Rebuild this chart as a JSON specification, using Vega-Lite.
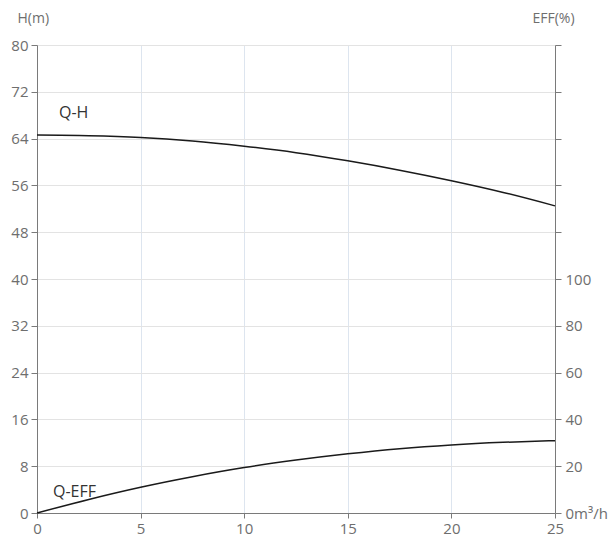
{
  "$schema": "https://vega.github.io/schema/vega-lite/v6.json",
  "width": 518,
  "height": 468,
  "autosize": {"type": "none"},
  "padding": {"left": 37, "top": 45, "right": 60, "bottom": 30},
  "background": "white",
  "config": {
    "view": {"stroke": null},
    "font": "Open Sans",
    "axis": {
      "labelFont": "Open Sans",
      "labelFontSize": 15,
      "labelColor": "#6e6e6e",
      "titleFont": "Open Sans",
      "titleFontSize": 14,
      "titleFontWeight": "normal",
      "titleColor": "#6e6e6e",
      "domainColor": "#7a7a7a",
      "tickColor": "#7a7a7a",
      "tickSize": 6,
      "labelPadding": 3
    }
  },
  "datasets": {
    "qh": [
      {"Q": 0, "H": 64.6},
      {"Q": 2.5, "H": 64.5},
      {"Q": 5, "H": 64.2},
      {"Q": 7.5, "H": 63.6},
      {"Q": 10, "H": 62.7},
      {"Q": 12.5, "H": 61.6},
      {"Q": 15, "H": 60.2},
      {"Q": 17.5, "H": 58.6},
      {"Q": 20, "H": 56.8},
      {"Q": 22.5, "H": 54.8},
      {"Q": 25, "H": 52.5}
    ],
    "qeff": [
      {"Q": 0, "EFF": 0},
      {"Q": 2.5, "EFF": 5.8},
      {"Q": 5, "EFF": 11.0},
      {"Q": 7.5, "EFF": 15.5},
      {"Q": 10, "EFF": 19.4},
      {"Q": 12.5, "EFF": 22.6},
      {"Q": 15, "EFF": 25.3},
      {"Q": 17.5, "EFF": 27.5},
      {"Q": 20, "EFF": 29.1},
      {"Q": 22.5, "EFF": 30.2},
      {"Q": 25, "EFF": 30.9}
    ],
    "labels": [
      {"Q": 1.06, "H": 68.4, "label": "Q-H"},
      {"Q": 0.77, "H": 3.6, "label": "Q-EFF"}
    ]
  },
  "layer": [
    {
      "layer": [
        {
          "data": {"name": "qh"},
          "mark": {"type": "line", "interpolate": "monotone", "color": "#1a1a1a", "strokeWidth": 1.5},
          "encoding": {
            "x": {
              "field": "Q", "type": "quantitative",
              "scale": {"domain": [0, 25], "nice": false},
              "axis": {"values": [0, 5, 10, 15, 20, 25], "title": null, "grid": true, "gridColor": "#dde5ef", "labelPadding": 3, "tickSize": 5, "labelFlush": false}
            },
            "y": {
              "field": "H", "type": "quantitative",
              "scale": {"domain": [0, 80], "nice": false},
              "axis": {
                "values": [0, 8, 16, 24, 32, 40, 48, 56, 64, 72, 80],
                "title": "H(m)", "titleAngle": 0, "titleAlign": "left", "titleBaseline": "middle",
                "titleX": -20, "titleY": -27,
                "grid": true, "gridColor": "#e3e3e3"
              }
            }
          }
        },
        {
          "data": {"name": "labels"},
          "mark": {"type": "text", "align": "left", "baseline": "middle", "fontSize": 16, "color": "#333333", "font": "Open Sans"},
          "encoding": {
            "x": {"field": "Q", "type": "quantitative"},
            "y": {"field": "H", "type": "quantitative"},
            "text": {"field": "label"}
          }
        }
      ]
    },
    {
      "data": {"name": "qeff"},
      "mark": {"type": "line", "interpolate": "monotone", "color": "#1a1a1a", "strokeWidth": 1.5},
      "encoding": {
        "x": {"field": "Q", "type": "quantitative"},
        "y": {
          "field": "EFF", "type": "quantitative",
          "scale": {"domain": [0, 200], "nice": false},
          "axis": {
            "orient": "right",
            "values": [0, 20, 40, 60, 80, 100, 120, 140, 160, 180, 200],
            "labelExpr": "datum.value == 0 ? '0m³/h' : (datum.value <= 100 ? datum.label : '')",
            "title": "EFF(%)", "titleAngle": 0, "titleAlign": "left", "titleBaseline": "middle",
            "titleX": -23, "titleY": -27,
            "grid": false, "labelPadding": 4
          }
        }
      }
    }
  ],
  "resolve": {"scale": {"y": "independent"}}
}
